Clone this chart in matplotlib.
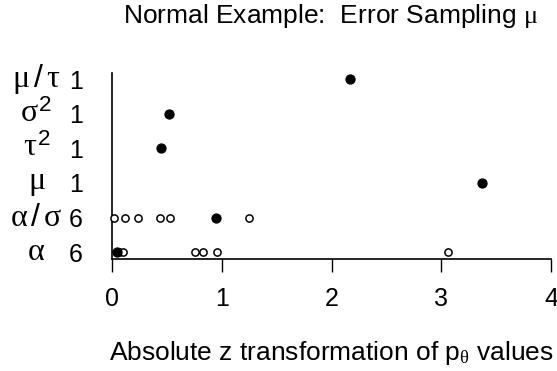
import numpy as np
import matplotlib
matplotlib.use('Agg')
import matplotlib.pyplot as plt
import matplotlib.transforms as mtransforms

plt.rcParams['font.family'] = ['Liberation Sans', 'DejaVu Sans']
plt.rcParams['mathtext.fontset'] = 'custom'
plt.rcParams['mathtext.rm'] = 'Liberation Sans'
plt.rcParams['mathtext.it'] = 'Liberation Serif'

# rows from bottom to top
row_labels = [r'$\alpha$', r'$\alpha\,/\,\sigma$', r'$\mu$', r'$\tau^2$', r'$\sigma^2$',
              r'$\mu\,/\,\tau$']
row_counts = ['6', '6', '1', '1', '1', '1']

# open circles: individual values per row
open_vals = [
    [0.06, 0.10, 0.76, 0.83, 0.96, 3.06],
    [0.02, 0.12, 0.24, 0.44, 0.53, 1.25],
    [], [], [], [],
]
# filled circles: one per row
filled_vals = [0.05, 0.95, 3.37, 0.45, 0.52, 2.17]

fig = plt.figure(figsize=(5.57, 3.71), dpi=100)
ax = fig.add_axes([112/557, 112/371, 439/557, 186/371])

for i, vals in enumerate(open_vals):
    if vals:
        ax.plot(vals, np.full(len(vals), i + 1), 'o', ms=5.2, mfc='white', mec='black',
                mew=1.1, clip_on=False, zorder=3)
ax.plot(filled_vals, np.arange(1, len(filled_vals) + 1), 'o', ms=6.4, color='black',
        clip_on=False, zorder=4)

ax.set_xlim(0, 4)
ax.set_ylim(0.8, 6.18)
ax.set_xticks([0, 1, 2, 3, 4])
ax.tick_params(axis='x', length=9, width=1, labelsize=18, pad=11)
ax.set_yticks(np.arange(1, 7))
ax.set_yticklabels(row_counts)
ax.tick_params(axis='y', length=0, labelsize=18, pad=21)

# parameter names, centred in their own column left of the counts
trans = mtransforms.blended_transform_factory(ax.transAxes, ax.transData)
for i, lab in enumerate(row_labels):
    ax.text(-0.172, i + 1, lab, transform=trans, ha='center', va='center', fontsize=23)

ax.spines['top'].set_visible(False)
ax.spines['right'].set_visible(False)
ax.spines['left'].set_linewidth(1.2)
ax.spines['bottom'].set_linewidth(1.2)

ax.set_xlabel(r'Absolute z transformation of p$_\theta$ values', fontsize=19, labelpad=20)
fig.text(0.594, 0.958, r'Normal Example:  Error Sampling $\mu$', fontsize=19,
         ha='center', va='center')

fig.savefig('out.png', dpi=100)
